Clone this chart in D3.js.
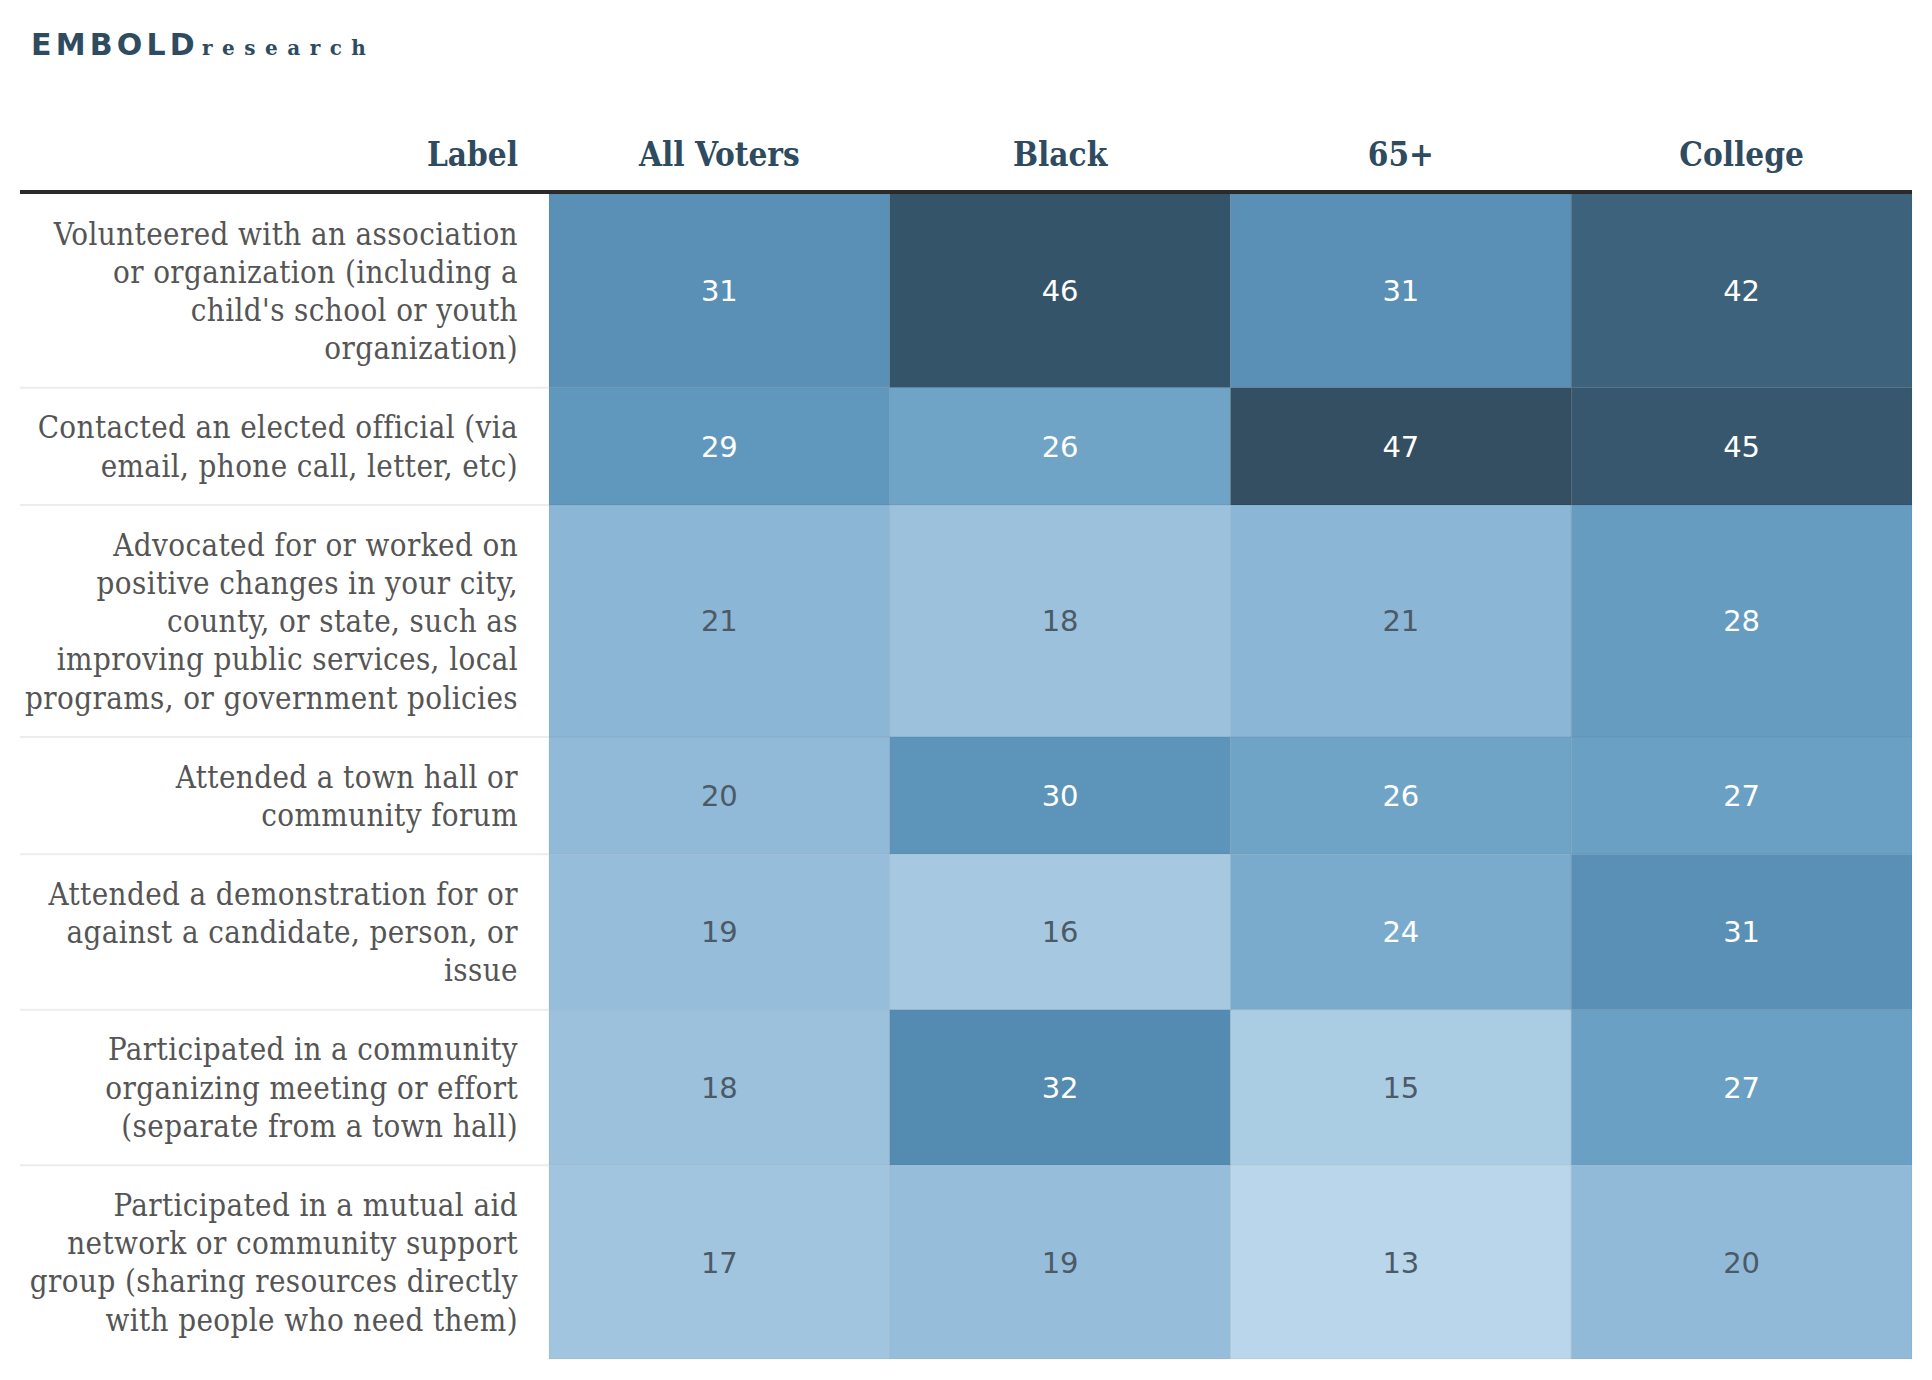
<!DOCTYPE html>
<html lang="en">
<head>
  <meta charset="UTF-8">
  <title>Civic activities by group</title>
  <script src="https://d3js.org/d3.v7.min.js"></script>
  <style>
    body { margin: 0; background: #fff; }
    .lbl { font-family: "DejaVu Serif Condensed", "DejaVu Serif", serif; font-stretch: condensed; }
  </style>
</head>
<body>
  <div id="chart"></div>
  <script>
    // table data
    const columns = ["All Voters", "Black", "65+", "College"];
    const labels = [
      ["Volunteered with an association", "or organization (including a", "child's school or youth", "organization)"],
      ["Contacted an elected official (via", "email, phone call, letter, etc)"],
      ["Advocated for or worked on", "positive changes in your city,", "county, or state, such as", "improving public services, local", "programs, or government policies"],
      ["Attended a town hall or", "community forum"],
      ["Attended a demonstration for or", "against a candidate, person, or", "issue"],
      ["Participated in a community", "organizing meeting or effort", "(separate from a town hall)"],
      ["Participated in a mutual aid", "network or community support", "group (sharing resources directly", "with people who need them)"]
    ];
    const allVoters = [31, 29, 21, 20, 19, 18, 17];
    const black     = [46, 26, 18, 30, 16, 32, 19];
    const age65     = [31, 47, 21, 26, 24, 15, 13];
    const college   = [42, 45, 28, 27, 31, 27, 20];

    const series = [allVoters, black, age65, college];

    const width = 1932, height = 1380;
    const tableLeft = 20, tableRight = 1912, labelRight = 549;
    const headTop = 194, tableBottom = 1359;
    const padUnits = 1.07;

    const svg = d3.select("#chart").append("svg")
      .attr("width", width)
      .attr("height", height);

    // logo
    const logo = svg.append("text")
      .attr("x", 31)
      .attr("y", 55)
      .attr("fill", "#2e4b5f");
    logo.append("tspan")
      .attr("font-family", "DejaVu Sans, sans-serif")
      .attr("font-weight", "bold")
      .attr("font-size", 30)
      .attr("letter-spacing", 4.2)
      .text("EMBOLD");
    logo.append("tspan")
      .attr("dx", 3)
      .attr("font-family", "DejaVu Serif, serif")
      .attr("font-weight", "bold")
      .attr("font-size", 20)
      .attr("letter-spacing", 9.5)
      .text("research");

    // scales
    const x = d3.scaleBand()
      .domain(columns)
      .range([labelRight, tableRight]);

    const units = labels.map(l => l.length + padUnits);
    const starts = d3.cumsum([0].concat(units));
    const y = d3.scaleLinear()
      .domain([0, d3.sum(units)])
      .range([headTop, tableBottom]);

    const color = d3.scaleLinear()
      .domain([13, 15, 18, 21, 26, 29, 31, 32, 42, 46, 47])
      .range(["#b9d6ea", "#abcde4", "#9cc1dc", "#8bb6d6", "#6fa4c6", "#6098bd",
              "#5a90b5", "#548bb1", "#3d627c", "#34546a", "#334f61"])
      .interpolate(d3.interpolateLab)
      .clamp(true);

    // header
    svg.append("text")
      .attr("class", "lbl")
      .attr("x", 518)
      .attr("y", 166)
      .attr("text-anchor", "end")
      .attr("font-size", 33)
      .attr("font-weight", "bold")
      .attr("fill", "#2e4b5f")
      .text("Label");

    svg.selectAll(".colhead")
      .data(columns)
      .enter()
      .append("text")
      .attr("class", "lbl colhead")
      .attr("x", d => x(d) + x.bandwidth() / 2)
      .attr("y", 166)
      .attr("text-anchor", "middle")
      .attr("font-size", 33)
      .attr("font-weight", "bold")
      .attr("fill", "#2e4b5f")
      .text(d => d);

    // cells
    const cells = [];
    series.forEach((vals, c) => {
      vals.forEach((v, r) => cells.push({ col: columns[c], row: r, value: v }));
    });

    svg.selectAll("rect.cell")
      .data(cells)
      .enter()
      .append("rect")
      .attr("class", "cell")
      .attr("x", d => x(d.col))
      .attr("y", d => y(starts[d.row]))
      .attr("width", x.bandwidth())
      .attr("height", d => y(starts[d.row + 1]) - y(starts[d.row]))
      .attr("fill", d => color(d.value))
      .attr("stroke", "rgba(0,0,0,0.05)")
      .attr("stroke-width", 1);

    svg.selectAll("text.val")
      .data(cells)
      .enter()
      .append("text")
      .attr("class", "val")
      .attr("x", d => x(d.col) + x.bandwidth() / 2)
      .attr("y", d => (y(starts[d.row]) + y(starts[d.row + 1])) / 2)
      .attr("dy", "0.36em")
      .attr("text-anchor", "middle")
      .attr("font-family", "DejaVu Sans, sans-serif")
      .attr("font-size", 29)
      .attr("fill", d => d.value >= 24 ? "#ffffff" : "#4b5a66")
      .text(d => d.value);

    // row separators in label column
    svg.selectAll("line.sep")
      .data(d3.range(1, labels.length))
      .enter()
      .append("line")
      .attr("class", "sep")
      .attr("x1", tableLeft)
      .attr("x2", labelRight)
      .attr("y1", d => y(starts[d]))
      .attr("y2", d => y(starts[d]))
      .attr("stroke", "#ececec")
      .attr("stroke-width", 2);

    // row labels
    const lineH = (y(1) - y(0));
    labels.forEach((lines, r) => {
      const mid = (y(starts[r]) + y(starts[r + 1])) / 2;
      svg.append("text")
        .attr("class", "lbl")
        .attr("text-anchor", "end")
        .attr("font-size", 31)
        .attr("letter-spacing", 0.4)
        .attr("fill", "#555555")
        .selectAll("tspan")
        .data(lines)
        .enter()
        .append("tspan")
        .attr("x", 518)
        .attr("y", (d, i) => mid + (i - (lines.length - 1) / 2) * lineH)
        .attr("dy", "0.36em")
        .text(d => d);
    });

    // header rule
    svg.append("line")
      .attr("x1", tableLeft)
      .attr("x2", tableRight)
      .attr("y1", 192)
      .attr("y2", 192)
      .attr("stroke", "#2a2a2a")
      .attr("stroke-width", 4);
  </script>
</body>
</html>
